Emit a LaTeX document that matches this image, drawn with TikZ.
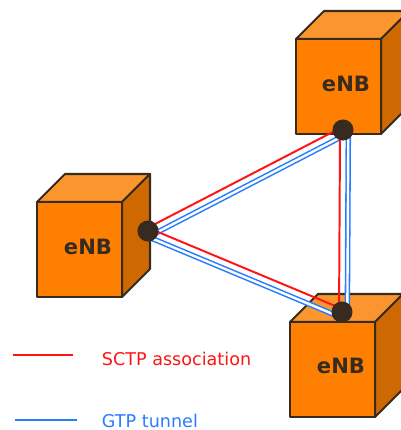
\documentclass[tikz,border=0pt]{standalone}
\usepackage{fontspec}
\setmainfont{DejaVu Sans}
\usetikzlibrary{calc}

\definecolor{orangeface}{RGB}{255,128,0}
\definecolor{orangetop}{RGB}{250,150,45}
\definecolor{orangeside}{RGB}{205,105,0}
\definecolor{brun}{RGB}{55,42,30}
\definecolor{rouge}{RGB}{255,20,20}
\definecolor{bleu}{RGB}{40,125,255}

\tikzset{
  arete/.style={draw=brun, line width=1.5pt, line join=round},
  sctp/.style={rouge, line width=1.4pt},
  gtp/.style={bleu, double=white, line width=1.1pt, double distance=1.7pt},
  point/.style={circle, fill=brun, inner sep=0pt, minimum size=15pt},
  enb/.style={font=\fontsize{15}{18}\selectfont\bfseries, text=brun},
  legende/.style={font=\fontsize{12.5}{14}\selectfont, anchor=base west},
}

% une boite orange : coin haut gauche de la face avant
\newcommand{\boite}[2]{%
  \filldraw[arete, fill=orangetop] (#1,#2) -- ++(28,-28) -- ++(85,0) -- ++(-28,28) -- cycle;
  \filldraw[arete, fill=orangeside] (#1+85,#2) -- ++(28,-28) -- ++(0,95) -- ++(-28,28) -- cycle;
  \filldraw[arete, fill=orangeface] (#1,#2) rectangle ++(85,95);
}

\begin{document}
\begin{tikzpicture}[x=0.025cm, y=-0.025cm]
	\useasboundingbox (0,0) rectangle (401,430);
	% les eNB
	\boite{37}{202}
	\boite{296}{39}
	\boite{290}{322}
	\node[enb] (enbg) at (88,247) {eNB};
	\node[enb] (enbh) at (346,84) {eNB};
	\node[enb] (enbb) at (341,366) {eNB};
	% les liaisons
	\coordinate (g) at (148,231);
	\coordinate (h) at (343,130);
	\coordinate (b) at (342,312);
	\draw[sctp] ($(g)!2.1pt!90:(h)$) -- ($(h)!2.1pt!-90:(g)$);
	\draw[gtp] ($(g)!3.8pt!-90:(h)$) -- ($(h)!3.8pt!90:(g)$);
	\draw[sctp] ($(g)!2.1pt!90:(b)$) -- ($(b)!2.1pt!-90:(g)$);
	\draw[gtp] ($(g)!3.8pt!-90:(b)$) -- ($(b)!3.8pt!90:(g)$);
	\draw[sctp] ($(b)!2.1pt!90:(h)$) -- ($(h)!2.1pt!-90:(b)$);
	\draw[gtp] ($(b)!3.8pt!-90:(h)$) -- ($(h)!3.8pt!90:(b)$);
	\node[point] (pg) at (g) {};
	\node[point] (ph) at (h) {};
	\node[point] (pb) at (b) {};
	% la legende
	\coordinate (r1) at (13,355);
	\coordinate (r2) at (73,355);
	\coordinate (b1) at (15,420);
	\coordinate (b2) at (77,420);
	\draw[sctp] (r1) -- (r2);
	\draw[bleu, line width=1.4pt] (b1) -- (b2);
	\node[legende, text=rouge] (lsctp) at (97,365) {SCTP association};
	\node[legende, text=bleu] (lgtp) at (97,427) {GTP tunnel};
\end{tikzpicture}
\end{document}
